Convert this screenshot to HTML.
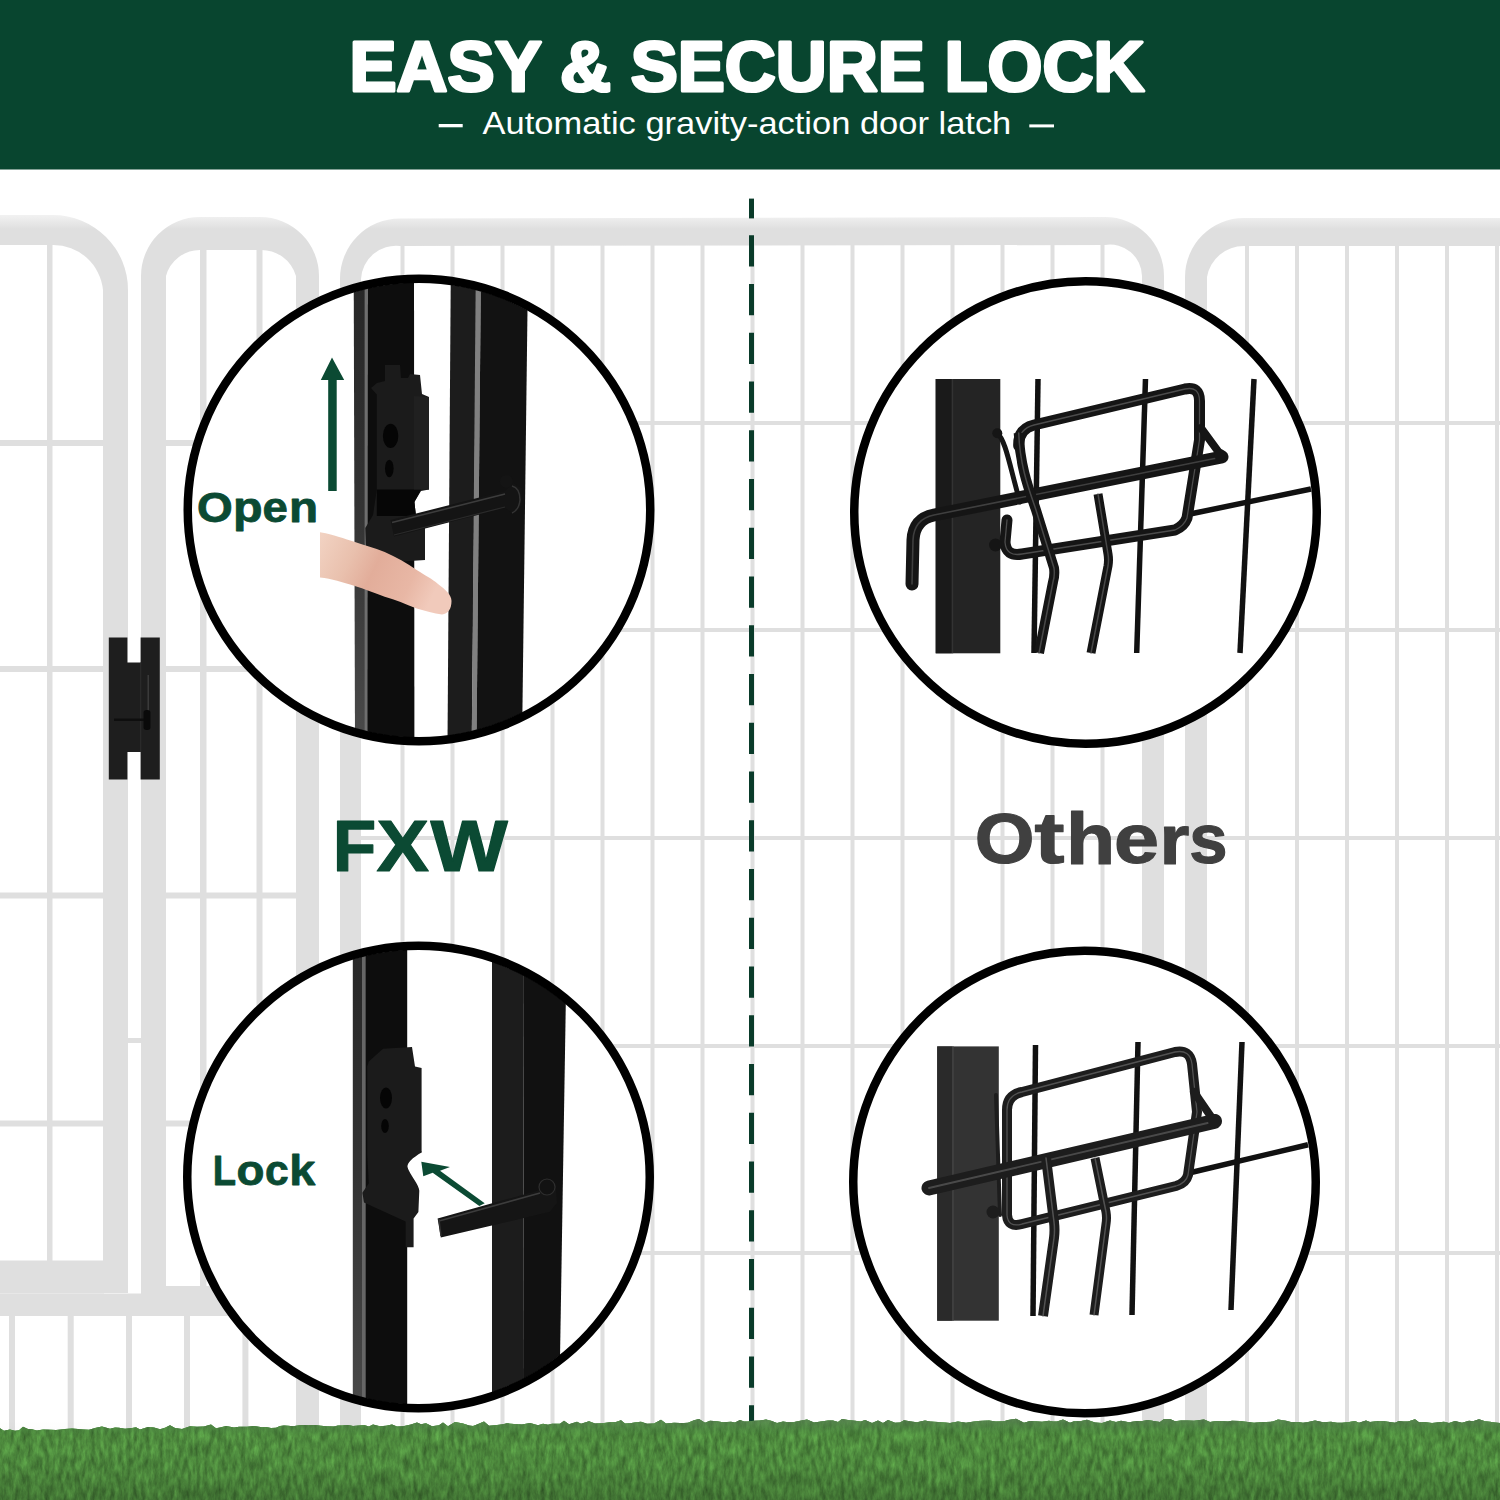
<!DOCTYPE html>
<html><head><meta charset="utf-8"><title>Easy &amp; Secure Lock</title>
<style>html,body{margin:0;padding:0;background:#fff;width:1500px;height:1500px;overflow:hidden}svg{display:block;font-family:"Liberation Sans",sans-serif}</style>
</head><body><svg width="1500" height="1500" viewBox="0 0 1500 1500"><defs><linearGradient id="tubeg" gradientUnits="userSpaceOnUse" x1="0" y1="215" x2="0" y2="229"><stop offset="0" stop-color="#f2f2f2"/><stop offset="1" stop-color="#dfdfdf"/></linearGradient></defs><g id="fence"><rect x="400.5" y="240.0" width="4.0" height="1192.0" fill="#dfdfdf"/><rect x="450.5" y="240.0" width="4.0" height="1192.0" fill="#dfdfdf"/><rect x="500.5" y="240.0" width="4.0" height="1192.0" fill="#dfdfdf"/><rect x="550.5" y="240.0" width="4.0" height="1192.0" fill="#dfdfdf"/><rect x="600.5" y="240.0" width="4.0" height="1192.0" fill="#dfdfdf"/><rect x="650.5" y="240.0" width="4.0" height="1192.0" fill="#dfdfdf"/><rect x="700.5" y="240.0" width="4.0" height="1192.0" fill="#dfdfdf"/><rect x="750.5" y="240.0" width="4.0" height="1192.0" fill="#dfdfdf"/><rect x="800.5" y="240.0" width="4.0" height="1192.0" fill="#dfdfdf"/><rect x="850.5" y="240.0" width="4.0" height="1192.0" fill="#dfdfdf"/><rect x="900.5" y="240.0" width="4.0" height="1192.0" fill="#dfdfdf"/><rect x="950.5" y="240.0" width="4.0" height="1192.0" fill="#dfdfdf"/><rect x="1000.5" y="240.0" width="4.0" height="1192.0" fill="#dfdfdf"/><rect x="1050.5" y="240.0" width="4.0" height="1192.0" fill="#dfdfdf"/><rect x="1100.5" y="240.0" width="4.0" height="1192.0" fill="#dfdfdf"/><rect x="1245.0" y="240.0" width="4.0" height="1192.0" fill="#dfdfdf"/><rect x="1295.0" y="240.0" width="4.0" height="1192.0" fill="#dfdfdf"/><rect x="1345.0" y="240.0" width="4.0" height="1192.0" fill="#dfdfdf"/><rect x="1395.0" y="240.0" width="4.0" height="1192.0" fill="#dfdfdf"/><rect x="1445.0" y="240.0" width="4.0" height="1192.0" fill="#dfdfdf"/><rect x="1495.0" y="240.0" width="4.0" height="1192.0" fill="#dfdfdf"/><rect x="361.0" y="421.0" width="781.0" height="4.0" fill="#dfdfdf"/><rect x="1207.0" y="421.0" width="293.0" height="4.0" fill="#dfdfdf"/><rect x="361.0" y="628.0" width="781.0" height="4.0" fill="#dfdfdf"/><rect x="1207.0" y="628.0" width="293.0" height="4.0" fill="#dfdfdf"/><rect x="361.0" y="836.0" width="781.0" height="4.0" fill="#dfdfdf"/><rect x="1207.0" y="836.0" width="293.0" height="4.0" fill="#dfdfdf"/><rect x="361.0" y="1044.0" width="781.0" height="4.0" fill="#dfdfdf"/><rect x="1207.0" y="1044.0" width="293.0" height="4.0" fill="#dfdfdf"/><rect x="361.0" y="1251.0" width="781.0" height="4.0" fill="#dfdfdf"/><rect x="1207.0" y="1251.0" width="293.0" height="4.0" fill="#dfdfdf"/><rect x="47.0" y="240.0" width="5.5" height="1022.0" fill="#dfdfdf"/><rect x="200.0" y="245.0" width="6.5" height="1045.0" fill="#dfdfdf"/><rect x="256.5" y="245.0" width="6.0" height="1045.0" fill="#dfdfdf"/><rect x="0.0" y="440.0" width="104.0" height="6.0" fill="#dfdfdf"/><rect x="165.0" y="440.0" width="132.0" height="6.0" fill="#dfdfdf"/><rect x="0.0" y="666.0" width="104.0" height="6.0" fill="#dfdfdf"/><rect x="165.0" y="666.0" width="132.0" height="6.0" fill="#dfdfdf"/><rect x="0.0" y="892.5" width="104.0" height="6.0" fill="#dfdfdf"/><rect x="165.0" y="892.5" width="132.0" height="6.0" fill="#dfdfdf"/><rect x="0.0" y="1120.5" width="104.0" height="6.0" fill="#dfdfdf"/><rect x="165.0" y="1120.5" width="132.0" height="6.0" fill="#dfdfdf"/><path d="M0 215 L53 215 A75 75 0 0 1 128 290 L128 1293 L103 1293 L103 290 A50 50 0 0 0 53 245 L0 245 Z" fill="url(#tubeg)"/><path d="M141 1296 L141 276 A59 59 0 0 1 200 217 L260 217 A59 59 0 0 1 319 276 L319 1432 L296 1432 L296 276 A36 36 0 0 0 260 250 L200 250 A35 35 0 0 0 166 276 L166 1296 Z" fill="url(#tubeg)"/><path d="M340 1432 L340 279 A60 60 0 0 1 400 218.5 L1105 217 A59 59 0 0 1 1164 276 L1164 1432 L1142 1432 L1142 276 A32 32 0 0 0 1105 245 L400 246 A35 35 0 0 0 361 279 L361 1432 Z" fill="url(#tubeg)"/><path d="M1185 1432 L1185 277 A59 59 0 0 1 1244 218 L1500 218 L1500 246 L1244 246 A37 37 0 0 0 1207 277 L1207 1432 Z" fill="url(#tubeg)"/><rect x="0.0" y="1260.5" width="104.0" height="33.0" fill="#dfdfdf"/><rect x="166.0" y="1286.0" width="64.0" height="10.0" fill="#dfdfdf"/><rect x="0.0" y="1293.5" width="230.0" height="22.5" fill="#dfdfdf"/><rect x="9.0" y="1316.0" width="6.0" height="116.0" fill="#dfdfdf"/><rect x="67.7" y="1316.0" width="6.0" height="116.0" fill="#dfdfdf"/><rect x="126.0" y="1316.0" width="6.0" height="116.0" fill="#dfdfdf"/><rect x="184.0" y="1316.0" width="6.0" height="116.0" fill="#dfdfdf"/><rect x="242.4" y="1316.0" width="6.0" height="116.0" fill="#dfdfdf"/><rect x="127.0" y="1038.0" width="14.0" height="5.0" fill="#dfdfdf"/></g><rect x="749" y="198.6" width="5" height="19.8" fill="#0a3b2a"/><line x1="751.5" y1="235.2" x2="751.5" y2="1425" stroke="#0a3b2a" stroke-width="5" stroke-dasharray="31.2 17.55"/><rect x="0" y="0" width="1500" height="169.5" fill="#08452f"/><text x="349.5" y="91.2" font-family="Liberation Sans" font-weight="bold" font-size="71" fill="#fff" stroke="#fff" stroke-width="3.2" stroke-linejoin="round" textLength="795" lengthAdjust="spacingAndGlyphs">EASY &amp; SECURE LOCK</text><text x="482.6" y="134" font-family="Liberation Sans" font-size="30.5" fill="#fff" textLength="528.7" lengthAdjust="spacingAndGlyphs">Automatic gravity-action door latch</text><rect x="438.7" y="124" width="24" height="3.3" fill="#fff"/><rect x="1029.3" y="124.4" width="24.7" height="3" fill="#fff"/><path d="M108.8 637.4 H127.4 V662.6 H140.6 V637.4 H159.8 V779.5 H140.6 V752 H127.4 V779.5 H108.8 Z" fill="#1e1e1e"/><rect x="140.2" y="662.6" width="1" height="89.4" fill="#2e2e2e"/><rect x="147.5" y="675" width="1.5" height="45" fill="#3a3a3a"/><rect x="114" y="718.5" width="36" height="2.5" fill="#0e0e0e"/><rect x="143.5" y="710" width="7" height="20" rx="3" fill="#0a0a0a"/><defs><clipPath id="cTL"><circle cx="419" cy="510" r="227.5"/></clipPath><clipPath id="cTR"><circle cx="1085.5" cy="512.5" r="227.5"/></clipPath><clipPath id="cBL"><circle cx="418.5" cy="1177" r="227.5"/></clipPath><clipPath id="cBR"><circle cx="1084.5" cy="1182" r="227.5"/></clipPath></defs><circle cx="419" cy="510" r="231.25" fill="#fff" stroke="none"/><circle cx="1085.5" cy="512.5" r="231.25" fill="#fff" stroke="none"/><circle cx="418.5" cy="1177" r="231.25" fill="#fff" stroke="none"/><circle cx="1084.5" cy="1182" r="231.25" fill="#fff" stroke="none"/><g clip-path="url(#cTL)"><defs><linearGradient id="lstrip" x1="0" y1="0" x2="0" y2="1"><stop offset="0" stop-color="#262626"/><stop offset="0.5" stop-color="#333"/><stop offset="1" stop-color="#4a4a4a"/></linearGradient></defs><path d="M353.7 270 L368.5 270 L368 745 L355 745 Z" fill="url(#lstrip)"/><path d="M364.6 270 L368 270 L367.6 745 L364.6 745 Z" fill="#6e6e6e"/><path d="M368 270 L414 270 L414.4 745 L367.6 745 Z" fill="#0d0d0d"/><path d="M450.8 270 L476.8 270 L471.7 745 L447.5 745 Z" fill="#1c1c1c"/><path d="M475.8 270 L481 270 L476.5 745 L471.7 745 Z" fill="#808080"/><path d="M481 270 L528 270 L522 745 L476.5 745 Z" fill="#121212"/><path d="M385 365 L400 365 L401 378 L408 378 L410 374 L420 375 L422 394 L429 397 L429 489.6 L421 491 L414.4 502 L416 516 L425 518 L425 560 L395 562 L366 548 L365.3 528 L373 515 L376.8 489.6 L376.8 394.5 L371 388 L377 383 L385 381 Z" fill="#1b1b1b"/><path d="M376.8 489.6 L421 489.6 L414.4 502 L416 516 L376.8 516 Z" fill="#060606"/><path d="M414 396 L429 397 L429 489.6 L414 489.6 Z" fill="#202020"/><ellipse cx="390.6" cy="435.9" rx="7.7" ry="12.2" fill="#050505"/><ellipse cx="389.3" cy="468.5" rx="4.3" ry="8.8" fill="#050505"/><path d="M390.5 520 L505 491 L513 483 L521.5 488 L521.5 506 L514 514 L505 508 L394 536.5 Z" fill="#141414"/><circle cx="506.4" cy="481.4" r="6.5" fill="#141414"/><path d="M392 522.5 L505 494" stroke="#3c3c3c" stroke-width="1.6" fill="none"/><path d="M394 535 L505 507" stroke="#2a2a2a" stroke-width="1.2" fill="none"/><path d="M512 486 Q520 488 520 500 Q519 510 512 513" stroke="#333" stroke-width="1.5" fill="none"/></g><defs><linearGradient id="fg" x1="0" y1="0" x2="1" y2="0.3"><stop offset="0" stop-color="#f2d3c3"/><stop offset="0.3" stop-color="#e9c0ad"/><stop offset="0.5" stop-color="#e2ad9a"/><stop offset="0.8" stop-color="#e8b7a5"/><stop offset="1" stop-color="#f1cabb"/></linearGradient></defs><path d="M320 532.3 C336 535 344 539 352.7 541.3 C364 545 374 548 384.7 552 C396 557 407 563 416.7 570.1 C426 576 432 579 438 584 C446 590 451.5 595 451.5 601 C451.5 609 448 614 442 614.5 C434 613.5 425 611 416.7 608.5 C405 604 396 600 384.7 596.8 C374 593 364 589 354.8 586.1 C342 582 332 579 320 577.6 Z" fill="url(#fg)"/><g clip-path="url(#cTR)"><rect x="935.7" y="379" width="64.6" height="274.3" fill="#242424"/><rect x="935.7" y="379" width="16" height="274.3" fill="#1a1a1a"/><rect x="951.7" y="379" width="1.5" height="274.3" fill="#333"/><line x1="1038" y1="379" x2="1034" y2="653" stroke="#111" stroke-width="5.5"/><line x1="1145.5" y1="379" x2="1136.7" y2="653" stroke="#111" stroke-width="5.5"/><line x1="1254" y1="379" x2="1240" y2="653" stroke="#111" stroke-width="5.5"/><line x1="1311" y1="489" x2="1190" y2="514" stroke="#111" stroke-width="5.5"/><path d="M1018.7 446 Q1018 429 1034 425 L1185 389 Q1199.5 386 1199.5 401 L1199.5 440 L1187 518 Q1184 526 1175 530 L1022 554 Q1006 557 1005 542 L1007 520" fill="none" stroke="#151515" stroke-width="11" stroke-linejoin="round" stroke-linecap="round"/><path d="M1018.7 446 Q1018 429 1034 425 L1185 389 Q1199.5 386 1199.5 401 L1199.5 440 L1187 518 Q1184 526 1175 530 L1022 554 Q1006 557 1005 542 L1007 520" fill="none" stroke="#5a5a5a" stroke-width="1.3" stroke-linejoin="round" stroke-linecap="round" opacity="0.8"/><path d="M997 433 C1006 440 1010 468 1020 502" fill="none" stroke="#151515" stroke-width="5" stroke-linejoin="round" stroke-linecap="round"/><path d="M1201 428 L1223 458" fill="none" stroke="#151515" stroke-width="8" stroke-linejoin="round" stroke-linecap="round"/><path d="M912 584 L913 540 Q914 519 934 515 L1222 457" fill="none" stroke="#151515" stroke-width="13" stroke-linejoin="round" stroke-linecap="round"/><path d="M912 584 L913 540 Q914 519 934 515 L1222 457" fill="none" stroke="#4a4a4a" stroke-width="1.6" stroke-linejoin="round" stroke-linecap="round" opacity="0.8"/><path d="M1018.7 433 C1020 468 1030 492 1036 510 L1054 568 Q1055 575 1053 582 L1039 653" fill="none" stroke="#151515" stroke-width="10" stroke-linejoin="round" stroke-linecap="butt"/><path d="M1018.7 433 C1020 468 1030 492 1036 510 L1054 568 Q1055 575 1053 582 L1039 653" fill="none" stroke="#555" stroke-width="1.5" stroke-linejoin="round" stroke-linecap="round" opacity="0.8"/><path d="M1098 494 L1108 554 Q1109 560 1108 566 L1091 653" fill="none" stroke="#151515" stroke-width="9" stroke-linejoin="round" stroke-linecap="butt"/><path d="M1098 494 L1108 554 Q1109 560 1108 566 L1091 653" fill="none" stroke="#555" stroke-width="1.5" stroke-linejoin="round" stroke-linecap="round" opacity="0.8"/><circle cx="997.3" cy="433.3" r="5" fill="#151515"/><circle cx="995.5" cy="545" r="6.5" fill="#151515"/><circle cx="1220" cy="455" r="6" fill="#151515"/></g><g clip-path="url(#cBL)"><path d="M352.8 930 L365.6 930 L365.6 1420 L352.8 1420 Z" fill="url(#lstrip)"/><path d="M362 930 L365.6 930 L365.6 1420 L362 1420 Z" fill="#666"/><path d="M365.6 930 L407.2 930 L407.2 1420 L365.6 1420 Z" fill="#0d0d0d"/><path d="M492 930 L524 930 L523 1420 L492 1420 Z" fill="#1c1c1c"/><path d="M524 930 L567 930 L559 1420 L523 1420 Z" fill="#111"/><path d="M383 1048.8 L412 1047 L415 1066.4 L421.6 1068 L421.6 1151 L422 1152.3 C412 1158 407.3 1163 407.3 1166.7 C410 1175 419.3 1185 419.3 1190.7 L418.4 1212 L413.6 1218.4 L413.6 1247.2 L405.6 1247.2 L405.6 1221.6 L364 1202.4 L362.4 1192.8 L368.8 1183.2 L367.2 1154 L367.2 1066.4 L368.8 1061.6 Z" fill="#1b1b1b"/><ellipse cx="386" cy="1098" rx="6" ry="10.5" fill="#050505"/><ellipse cx="385" cy="1126" rx="3.8" ry="7" fill="#050505"/><path d="M437.6 1218.4 L540 1190 L548 1180 L556 1186 L557 1203 L549.6 1212 L440.8 1237.6 Z" fill="#151515"/><path d="M439 1221 L540 1193" stroke="#3c3c3c" stroke-width="1.6" fill="none"/><path d="M439 1219 L441 1236" stroke="#333" stroke-width="1.4" fill="none"/><circle cx="547" cy="1187" r="8" fill="#121212" stroke="#2e2e2e" stroke-width="1.2"/></g><g clip-path="url(#cBR)"><rect x="937.2" y="1046.4" width="61.6" height="274.3" fill="#333"/><rect x="937.2" y="1046.4" width="15" height="274.3" fill="#2a2a2a"/><rect x="952.2" y="1046.4" width="1.5" height="274.3" fill="#444"/><line x1="1035.5" y1="1045" x2="1033" y2="1316" stroke="#111" stroke-width="5.5"/><line x1="1138" y1="1042" x2="1132" y2="1315" stroke="#111" stroke-width="5.5"/><line x1="1242" y1="1042" x2="1231" y2="1310" stroke="#111" stroke-width="5.5"/><line x1="1308" y1="1144.7" x2="1191" y2="1172.5" stroke="#111" stroke-width="5.5"/><path d="M1007 1215 L1007 1110 Q1007 1095 1022 1092 L1175 1052 Q1190 1049 1192 1064 L1197 1112 L1188 1175 Q1186 1183 1176 1186 L1022 1224 Q1008 1228 1007 1215" fill="none" stroke="#1d1d1d" stroke-width="10" stroke-linejoin="round" stroke-linecap="round"/><path d="M1007 1215 L1007 1110 Q1007 1095 1022 1092 L1175 1052 Q1190 1049 1192 1064 L1197 1112 L1188 1175 Q1186 1183 1176 1186 L1022 1224 Q1008 1228 1007 1215" fill="none" stroke="#606060" stroke-width="1.3" stroke-linejoin="round" stroke-linecap="round" opacity="0.8"/><path d="M996 1095 L1000 1215" fill="none" stroke="#1d1d1d" stroke-width="4" stroke-linejoin="round" stroke-linecap="round"/><path d="M1194 1092 L1214 1121" fill="none" stroke="#1d1d1d" stroke-width="8" stroke-linejoin="round" stroke-linecap="round"/><path d="M929 1188 L1214 1121.5" fill="none" stroke="#1d1d1d" stroke-width="15" stroke-linejoin="round" stroke-linecap="round"/><path d="M929 1188 L1214 1121.5" fill="none" stroke="#555" stroke-width="1.8" stroke-linejoin="round" stroke-linecap="round" opacity="0.8"/><path d="M1046 1158 L1054 1222 Q1055 1230 1054 1238 L1043 1316" fill="none" stroke="#1d1d1d" stroke-width="10" stroke-linejoin="round" stroke-linecap="butt"/><path d="M1046 1158 L1054 1222 Q1055 1230 1054 1238 L1043 1316" fill="none" stroke="#606060" stroke-width="1.5" stroke-linejoin="round" stroke-linecap="round" opacity="0.8"/><path d="M1095 1158 L1106 1212 Q1107 1218 1106 1224 L1094 1315" fill="none" stroke="#1d1d1d" stroke-width="9" stroke-linejoin="round" stroke-linecap="butt"/><path d="M1095 1158 L1106 1212 Q1107 1218 1106 1224 L1094 1315" fill="none" stroke="#606060" stroke-width="1.5" stroke-linejoin="round" stroke-linecap="round" opacity="0.8"/><circle cx="993" cy="1212" r="6.5" fill="#1d1d1d"/><circle cx="1215" cy="1121" r="7" fill="#1d1d1d"/></g><circle cx="419" cy="510" r="231.25" fill="none" stroke="#000" stroke-width="8.5"/><circle cx="1085.5" cy="512.5" r="231.25" fill="none" stroke="#000" stroke-width="8.5"/><circle cx="418.5" cy="1177" r="231.25" fill="none" stroke="#000" stroke-width="8.5"/><circle cx="1084.5" cy="1182" r="231.25" fill="none" stroke="#000" stroke-width="8.5"/><g><text transform="translate(196.92 521.79) scale(1.0945 1)" font-family="Liberation Sans" font-weight="bold" font-size="41.95" fill="#0b4a33" stroke="#0b4a33" stroke-width="0.8" stroke-linejoin="round">O</text><text transform="translate(233.01 521.78) scale(1.1521 1)" font-family="Liberation Sans" font-weight="bold" font-size="42.03" fill="#0b4a33" stroke="#0b4a33" stroke-width="0.8" stroke-linejoin="round">p</text><text transform="translate(262.42 521.79) scale(1.0805 1)" font-family="Liberation Sans" font-weight="bold" font-size="42.16" fill="#0b4a33" stroke="#0b4a33" stroke-width="0.8" stroke-linejoin="round">e</text><text transform="translate(289.06 521.60) scale(1.1401 1)" font-family="Liberation Sans" font-weight="bold" font-size="41.78" fill="#0b4a33" stroke="#0b4a33" stroke-width="0.8" stroke-linejoin="round">n</text></g><g><text transform="translate(212.85 1185.40) scale(0.8877 1)" font-family="Liberation Sans" font-weight="bold" font-size="43.02" fill="#0b4a33" stroke="#0b4a33" stroke-width="0.8" stroke-linejoin="round">L</text><text transform="translate(236.41 1185.48) scale(1.0770 1)" font-family="Liberation Sans" font-weight="bold" font-size="42.53" fill="#0b4a33" stroke="#0b4a33" stroke-width="0.8" stroke-linejoin="round">o</text><text transform="translate(264.93 1185.48) scale(1.0026 1)" font-family="Liberation Sans" font-weight="bold" font-size="42.53" fill="#0b4a33" stroke="#0b4a33" stroke-width="0.8" stroke-linejoin="round">c</text><text transform="translate(289.33 1185.40) scale(1.0866 1)" font-family="Liberation Sans" font-weight="bold" font-size="43.06" fill="#0b4a33" stroke="#0b4a33" stroke-width="0.8" stroke-linejoin="round">k</text></g><g><text transform="translate(332.84 870.70) scale(0.9971 1)" font-family="Liberation Sans" font-weight="bold" font-size="71.37" fill="#0b4a33" stroke="#0b4a33" stroke-width="1.2" stroke-linejoin="round">F</text><text transform="translate(376.61 870.70) scale(1.1026 1)" font-family="Liberation Sans" font-weight="bold" font-size="71.37" fill="#0b4a33" stroke="#0b4a33" stroke-width="1.2" stroke-linejoin="round">X</text><text transform="translate(430.52 870.70) scale(1.1470 1)" font-family="Liberation Sans" font-weight="bold" font-size="71.37" fill="#0b4a33" stroke="#0b4a33" stroke-width="1.2" stroke-linejoin="round">W</text></g><g><text transform="translate(974.85 863.30) scale(1.0796 1)" font-family="Liberation Sans" font-weight="bold" font-size="71.19" fill="#404040" stroke="#404040" stroke-width="1.2" stroke-linejoin="round">O</text><text transform="translate(1034.50 863.37) scale(1.2565 1)" font-family="Liberation Sans" font-weight="bold" font-size="71.70" fill="#404040" stroke="#404040" stroke-width="1.2" stroke-linejoin="round">t</text><text transform="translate(1065.97 863.50) scale(1.1038 1)" font-family="Liberation Sans" font-weight="bold" font-size="73.00" fill="#404040" stroke="#404040" stroke-width="1.2" stroke-linejoin="round">h</text><text transform="translate(1113.94 863.31) scale(1.1462 1)" font-family="Liberation Sans" font-weight="bold" font-size="70.64" fill="#404040" stroke="#404040" stroke-width="1.2" stroke-linejoin="round">e</text><text transform="translate(1159.55 863.50) scale(1.0799 1)" font-family="Liberation Sans" font-weight="bold" font-size="70.93" fill="#404040" stroke="#404040" stroke-width="1.2" stroke-linejoin="round">r</text><text transform="translate(1189.18 863.31) scale(0.9742 1)" font-family="Liberation Sans" font-weight="bold" font-size="70.58" fill="#404040" stroke="#404040" stroke-width="1.2" stroke-linejoin="round">s</text></g><path d="M328.2 491 V380 H320.8 L332 357.5 L344.2 380 H336.7 V491 Z" fill="#0b4a33"/><path d="M421.3 1161.7 L450 1167 L440 1170.7 L484.7 1203.3 L479.3 1206 L432.7 1172.7 L423.3 1176.3 Z" fill="#0b4a33"/><defs><filter id="gr" x="0" y="0" width="100%" height="100%" color-interpolation-filters="sRGB">
<feTurbulence type="fractalNoise" baseFrequency="0.22 0.07" numOctaves="4" seed="11" result="n"/>
<feColorMatrix in="n" type="matrix" values="0.22 0 0 0 0.2  0.38 0 0 0 0.36  0.17 0 0 0 0.16  0 0 0 0 1" result="c"/>
<feComposite in="c" in2="SourceGraphic" operator="in"/>
</filter>
<linearGradient id="gshade" x1="0" y1="0" x2="0" y2="1"><stop offset="0" stop-color="#000" stop-opacity="0"/><stop offset="0.6" stop-color="#000" stop-opacity="0.05"/><stop offset="1" stop-color="#000" stop-opacity="0.18"/></linearGradient></defs><path d="M0 1500 L0 1428.2 L4 1430.8 L10 1429.4 L15 1430.7 L19 1430.2 L23 1426.7 L28 1429.1 L32 1429.2 L37 1430.5 L43 1429.5 L51 1429.7 L56 1430.1 L61 1429.4 L65 1428.9 L72 1428.5 L78 1429.0 L84 1429.4 L89 1429.8 L96 1427.8 L102 1426.4 L110 1428.8 L115 1427.4 L119 1427.8 L125 1428.8 L132 1428.1 L136 1427.2 L140 1429.4 L148 1426.9 L154 1427.6 L160 1429.2 L165 1427.7 L170 1425.3 L175 1428.1 L182 1428.9 L190 1426.3 L197 1426.7 L204 1426.4 L211 1424.4 L216 1428.3 L220 1427.4 L226 1425.9 L234 1427.6 L239 1426.7 L247 1426.7 L254 1426.0 L262 1427.2 L266 1427.0 L271 1427.9 L276 1427.8 L280 1426.0 L284 1425.6 L288 1425.7 L293 1426.3 L301 1424.9 L308 1425.2 L315 1424.9 L321 1425.7 L326 1426.2 L334 1426.5 L338 1425.5 L342 1425.6 L348 1425.0 L353 1425.9 L359 1425.6 L364 1425.1 L369 1426.6 L373 1424.5 L380 1426.3 L386 1425.8 L392 1424.4 L397 1426.5 L403 1426.2 L411 1424.5 L417 1422.6 L421 1424.2 L426 1423.3 L432 1426.2 L439 1425.2 L443 1422.5 L448 1426.2 L455 1422.1 L463 1423.6 L469 1425.6 L473 1425.9 L477 1424.6 L484 1421.4 L489 1425.7 L497 1425.1 L503 1424.3 L507 1423.3 L514 1423.9 L522 1424.4 L530 1423.0 L538 1425.2 L543 1423.7 L548 1424.7 L552 1423.7 L560 1423.7 L564 1420.8 L569 1424.2 L577 1421.7 L581 1423.7 L589 1421.2 L595 1423.5 L602 1423.3 L610 1422.3 L616 1422.1 L621 1420.3 L625 1423.4 L630 1423.2 L636 1422.3 L641 1421.8 L647 1423.7 L654 1423.5 L661 1419.7 L666 1423.5 L674 1422.8 L680 1423.0 L684 1422.9 L688 1422.7 L694 1420.3 L699 1419.1 L705 1422.8 L710 1420.8 L717 1421.2 L723 1422.3 L731 1421.8 L735 1422.5 L740 1420.0 L744 1421.5 L748 1421.5 L754 1420.8 L760 1420.5 L766 1419.4 L771 1420.7 L777 1422.9 L783 1421.4 L788 1422.3 L793 1422.3 L799 1420.9 L807 1419.6 L814 1422.4 L821 1421.4 L828 1420.6 L833 1420.5 L838 1422.0 L842 1418.9 L848 1419.9 L855 1420.8 L861 1421.5 L865 1419.9 L872 1423.0 L878 1420.6 L883 1422.9 L888 1420.1 L895 1422.8 L900 1422.4 L904 1420.3 L911 1421.5 L917 1422.2 L925 1420.6 L930 1421.4 L938 1422.0 L945 1422.6 L950 1422.9 L958 1421.4 L966 1422.7 L974 1421.6 L978 1420.9 L983 1420.8 L989 1420.6 L996 1421.6 L1004 1421.3 L1008 1419.9 L1016 1418.8 L1024 1422.8 L1030 1421.0 L1035 1421.2 L1042 1421.8 L1049 1420.7 L1053 1421.5 L1057 1421.5 L1063 1419.4 L1070 1422.8 L1074 1421.3 L1080 1421.2 L1087 1419.8 L1095 1422.5 L1102 1423.0 L1110 1420.6 L1116 1422.0 L1121 1420.8 L1129 1422.3 L1137 1420.9 L1141 1421.2 L1148 1420.0 L1155 1421.3 L1160 1422.0 L1164 1418.9 L1170 1418.9 L1175 1421.2 L1181 1420.4 L1188 1420.5 L1194 1420.7 L1198 1420.3 L1204 1419.4 L1210 1421.9 L1216 1421.0 L1220 1421.0 L1228 1421.6 L1232 1420.7 L1240 1421.1 L1246 1421.8 L1254 1422.7 L1260 1422.3 L1266 1422.0 L1273 1421.6 L1278 1419.4 L1286 1420.7 L1291 1421.9 L1298 1421.9 L1303 1422.8 L1307 1422.2 L1315 1420.5 L1322 1422.0 L1327 1422.1 L1331 1421.8 L1337 1422.7 L1342 1422.8 L1349 1422.0 L1355 1420.9 L1359 1422.7 L1366 1420.6 L1370 1422.0 L1378 1420.9 L1383 1421.0 L1388 1421.7 L1395 1422.8 L1399 1421.0 L1403 1421.4 L1408 1421.4 L1415 1419.3 L1419 1422.2 L1424 1422.0 L1432 1423.0 L1439 1422.3 L1444 1421.8 L1449 1422.9 L1455 1420.9 L1462 1422.8 L1469 1420.7 L1473 1421.3 L1479 1419.3 L1485 1421.2 L1490 1421.8 L1495 1422.4 L1500 1423 L1500 1500 Z" fill="#3f8a38"/><path d="M0 1500 L0 1428.2 L4 1430.8 L10 1429.4 L15 1430.7 L19 1430.2 L23 1426.7 L28 1429.1 L32 1429.2 L37 1430.5 L43 1429.5 L51 1429.7 L56 1430.1 L61 1429.4 L65 1428.9 L72 1428.5 L78 1429.0 L84 1429.4 L89 1429.8 L96 1427.8 L102 1426.4 L110 1428.8 L115 1427.4 L119 1427.8 L125 1428.8 L132 1428.1 L136 1427.2 L140 1429.4 L148 1426.9 L154 1427.6 L160 1429.2 L165 1427.7 L170 1425.3 L175 1428.1 L182 1428.9 L190 1426.3 L197 1426.7 L204 1426.4 L211 1424.4 L216 1428.3 L220 1427.4 L226 1425.9 L234 1427.6 L239 1426.7 L247 1426.7 L254 1426.0 L262 1427.2 L266 1427.0 L271 1427.9 L276 1427.8 L280 1426.0 L284 1425.6 L288 1425.7 L293 1426.3 L301 1424.9 L308 1425.2 L315 1424.9 L321 1425.7 L326 1426.2 L334 1426.5 L338 1425.5 L342 1425.6 L348 1425.0 L353 1425.9 L359 1425.6 L364 1425.1 L369 1426.6 L373 1424.5 L380 1426.3 L386 1425.8 L392 1424.4 L397 1426.5 L403 1426.2 L411 1424.5 L417 1422.6 L421 1424.2 L426 1423.3 L432 1426.2 L439 1425.2 L443 1422.5 L448 1426.2 L455 1422.1 L463 1423.6 L469 1425.6 L473 1425.9 L477 1424.6 L484 1421.4 L489 1425.7 L497 1425.1 L503 1424.3 L507 1423.3 L514 1423.9 L522 1424.4 L530 1423.0 L538 1425.2 L543 1423.7 L548 1424.7 L552 1423.7 L560 1423.7 L564 1420.8 L569 1424.2 L577 1421.7 L581 1423.7 L589 1421.2 L595 1423.5 L602 1423.3 L610 1422.3 L616 1422.1 L621 1420.3 L625 1423.4 L630 1423.2 L636 1422.3 L641 1421.8 L647 1423.7 L654 1423.5 L661 1419.7 L666 1423.5 L674 1422.8 L680 1423.0 L684 1422.9 L688 1422.7 L694 1420.3 L699 1419.1 L705 1422.8 L710 1420.8 L717 1421.2 L723 1422.3 L731 1421.8 L735 1422.5 L740 1420.0 L744 1421.5 L748 1421.5 L754 1420.8 L760 1420.5 L766 1419.4 L771 1420.7 L777 1422.9 L783 1421.4 L788 1422.3 L793 1422.3 L799 1420.9 L807 1419.6 L814 1422.4 L821 1421.4 L828 1420.6 L833 1420.5 L838 1422.0 L842 1418.9 L848 1419.9 L855 1420.8 L861 1421.5 L865 1419.9 L872 1423.0 L878 1420.6 L883 1422.9 L888 1420.1 L895 1422.8 L900 1422.4 L904 1420.3 L911 1421.5 L917 1422.2 L925 1420.6 L930 1421.4 L938 1422.0 L945 1422.6 L950 1422.9 L958 1421.4 L966 1422.7 L974 1421.6 L978 1420.9 L983 1420.8 L989 1420.6 L996 1421.6 L1004 1421.3 L1008 1419.9 L1016 1418.8 L1024 1422.8 L1030 1421.0 L1035 1421.2 L1042 1421.8 L1049 1420.7 L1053 1421.5 L1057 1421.5 L1063 1419.4 L1070 1422.8 L1074 1421.3 L1080 1421.2 L1087 1419.8 L1095 1422.5 L1102 1423.0 L1110 1420.6 L1116 1422.0 L1121 1420.8 L1129 1422.3 L1137 1420.9 L1141 1421.2 L1148 1420.0 L1155 1421.3 L1160 1422.0 L1164 1418.9 L1170 1418.9 L1175 1421.2 L1181 1420.4 L1188 1420.5 L1194 1420.7 L1198 1420.3 L1204 1419.4 L1210 1421.9 L1216 1421.0 L1220 1421.0 L1228 1421.6 L1232 1420.7 L1240 1421.1 L1246 1421.8 L1254 1422.7 L1260 1422.3 L1266 1422.0 L1273 1421.6 L1278 1419.4 L1286 1420.7 L1291 1421.9 L1298 1421.9 L1303 1422.8 L1307 1422.2 L1315 1420.5 L1322 1422.0 L1327 1422.1 L1331 1421.8 L1337 1422.7 L1342 1422.8 L1349 1422.0 L1355 1420.9 L1359 1422.7 L1366 1420.6 L1370 1422.0 L1378 1420.9 L1383 1421.0 L1388 1421.7 L1395 1422.8 L1399 1421.0 L1403 1421.4 L1408 1421.4 L1415 1419.3 L1419 1422.2 L1424 1422.0 L1432 1423.0 L1439 1422.3 L1444 1421.8 L1449 1422.9 L1455 1420.9 L1462 1422.8 L1469 1420.7 L1473 1421.3 L1479 1419.3 L1485 1421.2 L1490 1421.8 L1495 1422.4 L1500 1423 L1500 1500 Z" fill="#3f8a38" filter="url(#gr)"/><rect x="0" y="1420" width="1500" height="80" fill="url(#gshade)"/><defs><linearGradient id="fringe" gradientUnits="userSpaceOnUse" x1="0" y1="1416" x2="0" y2="1436"><stop offset="0" stop-color="#5f7d5c" stop-opacity="0.85"/><stop offset="1" stop-color="#3f7a3a" stop-opacity="0"/></linearGradient></defs><path d="M0 1500 L0 1428.2 L4 1430.8 L10 1429.4 L15 1430.7 L19 1430.2 L23 1426.7 L28 1429.1 L32 1429.2 L37 1430.5 L43 1429.5 L51 1429.7 L56 1430.1 L61 1429.4 L65 1428.9 L72 1428.5 L78 1429.0 L84 1429.4 L89 1429.8 L96 1427.8 L102 1426.4 L110 1428.8 L115 1427.4 L119 1427.8 L125 1428.8 L132 1428.1 L136 1427.2 L140 1429.4 L148 1426.9 L154 1427.6 L160 1429.2 L165 1427.7 L170 1425.3 L175 1428.1 L182 1428.9 L190 1426.3 L197 1426.7 L204 1426.4 L211 1424.4 L216 1428.3 L220 1427.4 L226 1425.9 L234 1427.6 L239 1426.7 L247 1426.7 L254 1426.0 L262 1427.2 L266 1427.0 L271 1427.9 L276 1427.8 L280 1426.0 L284 1425.6 L288 1425.7 L293 1426.3 L301 1424.9 L308 1425.2 L315 1424.9 L321 1425.7 L326 1426.2 L334 1426.5 L338 1425.5 L342 1425.6 L348 1425.0 L353 1425.9 L359 1425.6 L364 1425.1 L369 1426.6 L373 1424.5 L380 1426.3 L386 1425.8 L392 1424.4 L397 1426.5 L403 1426.2 L411 1424.5 L417 1422.6 L421 1424.2 L426 1423.3 L432 1426.2 L439 1425.2 L443 1422.5 L448 1426.2 L455 1422.1 L463 1423.6 L469 1425.6 L473 1425.9 L477 1424.6 L484 1421.4 L489 1425.7 L497 1425.1 L503 1424.3 L507 1423.3 L514 1423.9 L522 1424.4 L530 1423.0 L538 1425.2 L543 1423.7 L548 1424.7 L552 1423.7 L560 1423.7 L564 1420.8 L569 1424.2 L577 1421.7 L581 1423.7 L589 1421.2 L595 1423.5 L602 1423.3 L610 1422.3 L616 1422.1 L621 1420.3 L625 1423.4 L630 1423.2 L636 1422.3 L641 1421.8 L647 1423.7 L654 1423.5 L661 1419.7 L666 1423.5 L674 1422.8 L680 1423.0 L684 1422.9 L688 1422.7 L694 1420.3 L699 1419.1 L705 1422.8 L710 1420.8 L717 1421.2 L723 1422.3 L731 1421.8 L735 1422.5 L740 1420.0 L744 1421.5 L748 1421.5 L754 1420.8 L760 1420.5 L766 1419.4 L771 1420.7 L777 1422.9 L783 1421.4 L788 1422.3 L793 1422.3 L799 1420.9 L807 1419.6 L814 1422.4 L821 1421.4 L828 1420.6 L833 1420.5 L838 1422.0 L842 1418.9 L848 1419.9 L855 1420.8 L861 1421.5 L865 1419.9 L872 1423.0 L878 1420.6 L883 1422.9 L888 1420.1 L895 1422.8 L900 1422.4 L904 1420.3 L911 1421.5 L917 1422.2 L925 1420.6 L930 1421.4 L938 1422.0 L945 1422.6 L950 1422.9 L958 1421.4 L966 1422.7 L974 1421.6 L978 1420.9 L983 1420.8 L989 1420.6 L996 1421.6 L1004 1421.3 L1008 1419.9 L1016 1418.8 L1024 1422.8 L1030 1421.0 L1035 1421.2 L1042 1421.8 L1049 1420.7 L1053 1421.5 L1057 1421.5 L1063 1419.4 L1070 1422.8 L1074 1421.3 L1080 1421.2 L1087 1419.8 L1095 1422.5 L1102 1423.0 L1110 1420.6 L1116 1422.0 L1121 1420.8 L1129 1422.3 L1137 1420.9 L1141 1421.2 L1148 1420.0 L1155 1421.3 L1160 1422.0 L1164 1418.9 L1170 1418.9 L1175 1421.2 L1181 1420.4 L1188 1420.5 L1194 1420.7 L1198 1420.3 L1204 1419.4 L1210 1421.9 L1216 1421.0 L1220 1421.0 L1228 1421.6 L1232 1420.7 L1240 1421.1 L1246 1421.8 L1254 1422.7 L1260 1422.3 L1266 1422.0 L1273 1421.6 L1278 1419.4 L1286 1420.7 L1291 1421.9 L1298 1421.9 L1303 1422.8 L1307 1422.2 L1315 1420.5 L1322 1422.0 L1327 1422.1 L1331 1421.8 L1337 1422.7 L1342 1422.8 L1349 1422.0 L1355 1420.9 L1359 1422.7 L1366 1420.6 L1370 1422.0 L1378 1420.9 L1383 1421.0 L1388 1421.7 L1395 1422.8 L1399 1421.0 L1403 1421.4 L1408 1421.4 L1415 1419.3 L1419 1422.2 L1424 1422.0 L1432 1423.0 L1439 1422.3 L1444 1421.8 L1449 1422.9 L1455 1420.9 L1462 1422.8 L1469 1420.7 L1473 1421.3 L1479 1419.3 L1485 1421.2 L1490 1421.8 L1495 1422.4 L1500 1423 L1500 1500 Z" fill="url(#fringe)"/></svg></body></html>
